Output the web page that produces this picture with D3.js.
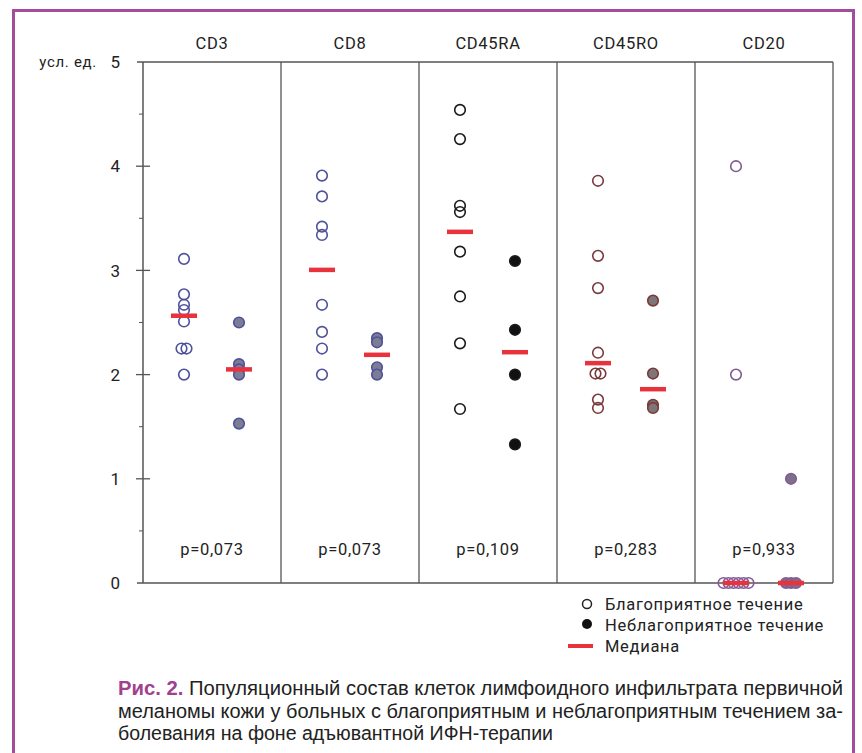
<!DOCTYPE html>
<html lang="ru">
<head>
<meta charset="UTF-8">
<title>Рис. 2</title>
<script src="https://d3js.org/d3.v7.min.js"></script>
<style>
  body { margin: 0; background: #fff; }
  text { font-family: Roboto, "Noto Sans", sans-serif; fill: #222; }
  .lbl { letter-spacing: 0.7px; }
</style>
</head>
<body>
<svg></svg>
<script>
const markers = ["CD3", "CD8", "CD45RA", "CD45RO", "CD20"];
const pValues = ["p=0,073", "p=0,073", "p=0,109", "p=0,283", "p=0,933"];
const favorable = [
  [3.11, 2.77, 2.67, 2.62, 2.51, 2.25, 2.25, 2.0],
  [3.91, 3.71, 3.42, 3.34, 2.67, 2.41, 2.25, 2.0],
  [4.54, 4.26, 3.62, 3.56, 3.18, 2.75, 2.30, 1.67],
  [3.86, 3.14, 2.83, 2.21, 2.01, 2.01, 1.76, 1.68],
  [4.0, 2.0, 0, 0, 0, 0, 0, 0]
];
const unfavorable = [
  [2.5, 2.1, 2.05, 2.0, 1.53],
  [2.35, 2.31, 2.07, 2.0],
  [3.09, 2.43, 2.0, 1.33],
  [2.71, 2.01, 1.71, 1.68],
  [1.0, 0, 0, 0]
];
const yTicks = [0, 1, 2, 3, 4, 5];
const strokeColors = ["#4e519c", "#4e519c", "#1a1a1a", "#7a3a3c", "#845a96"];
const fillColors = ["#7c7d94", "#7c7d94", "#111111", "#7e7576", "#7c6f88"];
const legendItems = ["Благоприятное течение", "Неблагоприятное течение", "Медиана"];
const captionLines = [
  "Популяционный состав клеток лимфоидного инфильтрата первичной",
  "меланомы кожи у больных с благоприятным и неблагоприятным течением за-",
  "болевания на фоне адъювантной ИФН-терапии"
];

const W = 862, H = 753;
const svg = d3.select("svg").attr("width", W).attr("height", H);

// рамка
svg.append("rect")
  .attr("x", 13.5).attr("y", 10.5).attr("width", 840).attr("height", 760)
  .attr("fill", "none").attr("stroke", "#a34d9b").attr("stroke-width", 3);

const pLeft = 143, pRight = 833, pTop = 62, pBottom = 583;
const y = d3.scaleLinear().domain([0, 5]).range([pBottom, pTop]);
const x = d3.scaleBand().domain(markers).range([pLeft, pRight]);
const sub = d3.scalePoint().domain(["fav", "unfav"]).range([41, 96]);

const axisColor = "#555";

// оси и рамки панелей
svg.append("line").attr("x1", pLeft - 6).attr("x2", pRight).attr("y1", pTop).attr("y2", pTop)
  .attr("stroke", axisColor).attr("stroke-width", 1.5);
svg.append("line").attr("x1", pLeft - 6).attr("x2", pRight).attr("y1", pBottom).attr("y2", pBottom)
  .attr("stroke", axisColor).attr("stroke-width", 1.5);
svg.append("line").attr("x1", pLeft).attr("x2", pLeft).attr("y1", pTop).attr("y2", pBottom)
  .attr("stroke", axisColor).attr("stroke-width", 1.5);
svg.selectAll("line.div")
  .data(markers)
  .enter()
  .append("line")
    .attr("class", "div")
    .attr("x1", d => x(d) + x.bandwidth()).attr("x2", d => x(d) + x.bandwidth())
    .attr("y1", pTop).attr("y2", pBottom)
    .attr("stroke", axisColor).attr("stroke-width", 1.3);

// деления
svg.selectAll("line.tick")
  .data(yTicks.filter(t => t > 0 && t < 5))
  .enter()
  .append("line")
    .attr("class", "tick")
    .attr("x1", pLeft - 7).attr("x2", pLeft + 7)
    .attr("y1", d => y(d)).attr("y2", d => y(d))
    .attr("stroke", axisColor).attr("stroke-width", 1.3);
svg.selectAll("line.minor")
  .data(d3.range(0.5, 5, 1))
  .enter()
  .append("line")
    .attr("class", "minor")
    .attr("x1", pLeft - 4).attr("x2", pLeft)
    .attr("y1", d => y(d)).attr("y2", d => y(d))
    .attr("stroke", axisColor).attr("stroke-width", 1);
svg.selectAll("text.tl")
  .data(yTicks)
  .enter()
  .append("text")
    .attr("class", "tl")
    .attr("x", 120).attr("y", d => y(d)).attr("dy", "0.36em")
    .attr("text-anchor", "end").attr("font-size", 17)
    .text(d => d);
svg.append("text").attr("class", "lbl").attr("x", 97).attr("y", y(5)).attr("dy", "0.36em")
  .attr("text-anchor", "end").attr("font-size", 15).text("усл. ед.");

// заголовки панелей и p
svg.selectAll("text.title")
  .data(markers)
  .enter()
  .append("text")
    .attr("class", "title lbl")
    .attr("x", d => x(d) + x.bandwidth() / 2).attr("y", 49)
    .attr("text-anchor", "middle").attr("font-size", 16.5)
    .text(d => d);
svg.selectAll("text.p")
  .data(pValues)
  .enter()
  .append("text")
    .attr("class", "p lbl")
    .attr("x", (d, i) => x(markers[i]) + x.bandwidth() / 2).attr("y", 555)
    .attr("text-anchor", "middle").attr("font-size", 16.5)
    .text(d => d);

// совпадающие значения разносятся по горизонтали
function spread(vals) {
  const seen = {};
  const counts = d3.rollup(vals, v => v.length, d => d);
  return vals.map(v => {
    const n = counts.get(v);
    const k = seen[v] = (seen[v] === undefined ? 0 : seen[v] + 1);
    return { v, off: (k - (n - 1) / 2) * 5 };
  });
}

const points = [];
const medians = [];
markers.forEach((m, i) => {
  [["fav", favorable[i]], ["unfav", unfavorable[i]]].forEach(([g, vals]) => {
    spread(vals).forEach(p => points.push({ m, i, g, v: p.v, off: p.off }));
    medians.push({ m, g, v: d3.median(vals) });
  });
});

svg.selectAll("circle.pt")
  .data(points)
  .enter()
  .append("circle")
    .attr("class", "pt")
    .attr("cx", d => x(d.m) + sub(d.g) + d.off)
    .attr("cy", d => y(d.v))
    .attr("r", 5.3)
    .attr("fill", d => d.g === "fav" ? "none" : fillColors[d.i])
    .attr("stroke", d => strokeColors[d.i])
    .attr("stroke-width", 1.6);

svg.selectAll("line.med")
  .data(medians)
  .enter()
  .append("line")
    .attr("class", "med")
    .attr("x1", d => x(d.m) + sub(d.g) - 13)
    .attr("x2", d => x(d.m) + sub(d.g) + 13)
    .attr("y1", d => y(d.v)).attr("y2", d => y(d.v))
    .attr("stroke", "#e8333d").attr("stroke-width", 4.5);

// легенда
const lg = svg.append("g").attr("transform", "translate(587,604)");
lg.append("circle").attr("cx", 0).attr("cy", 0).attr("r", 4.5)
  .attr("fill", "none").attr("stroke", "#222").attr("stroke-width", 1.5);
lg.append("circle").attr("cx", 0).attr("cy", 20).attr("r", 5).attr("fill", "#111");
lg.append("line").attr("x1", -19).attr("x2", 6).attr("y1", 42).attr("y2", 42)
  .attr("stroke", "#e8333d").attr("stroke-width", 4);
lg.selectAll("text")
  .data(legendItems)
  .enter()
  .append("text")
    .attr("class", "lbl")
    .attr("x", 18).attr("y", (d, i) => i * 21)
    .attr("dy", "0.36em").attr("font-size", 16.5)
    .text(d => d);

// подпись
const capLengths = [725, 725, 435];
captionLines.forEach((line, i) => {
  const t = svg.append("text")
    .attr("x", 118).attr("y", 695 + i * 22.5)
    .attr("font-size", 20)
    .style("font-family", "'Liberation Sans Narrow', 'Liberation Sans', sans-serif")
    .attr("textLength", capLengths[i])
    .attr("lengthAdjust", "spacingAndGlyphs");
  if (i === 0) {
    t.append("tspan").attr("font-weight", "bold").style("fill", "#a0408f").text("Рис. 2. ");
  }
  t.append("tspan").text(line);
});
</script>
</body>
</html>
